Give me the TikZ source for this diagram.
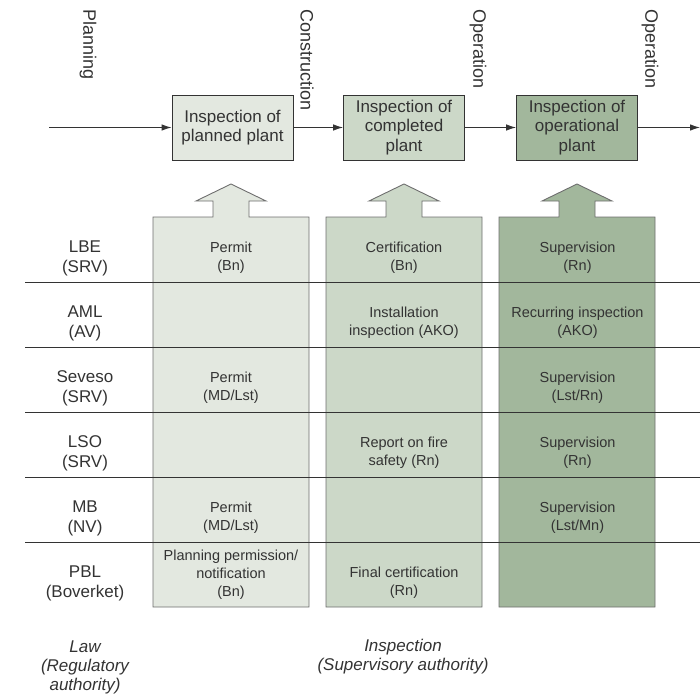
\documentclass[tikz,border=0pt]{standalone}
\usepackage{fontspec}
\setmainfont{Liberation Sans}
\usetikzlibrary{arrows.meta}

\definecolor{paleA}{HTML}{E3E8E0}
\definecolor{paleB}{HTML}{CCD8C8}
\definecolor{paleC}{HTML}{A2B79C}
\definecolor{ink}{HTML}{333333}
\definecolor{rim}{HTML}{6E6E6E}

\begin{document}
\begin{tikzpicture}[
x=1pt, y=-1pt,
font=\fontsize{14.5}{18}\selectfont,
text=ink,
stage/.style={draw=ink, line width=0.9pt, minimum width=121pt, minimum height=65pt, align=center, inner sep=0pt, font=\fontsize{17}{19.5}\selectfont},
phase/.style={rotate=-90, anchor=west, inner sep=0pt, font=\fontsize{18}{20}\selectfont},
act/.style={align=center, font=\fontsize{17}{20}\selectfont},
role/.style={align=center, font=\fontsize{17}{19}\selectfont\itshape},
cell/.style={align=center},
column/.style={draw=rim, line width=0.9pt},
arrow/.style={-{Latex[length=10pt,width=6.5pt]}, draw=ink, line width=0.9pt}
]
\useasboundingbox (0,0) rectangle (700,695);

\node[phase] (plan) at (88,9) {Planning};
\node[phase] (cons) at (307,9) {Construction};
\node[phase] (oper) at (478,9) {Operation};
\node[phase] (oper2) at (650,9) {Operation};

\node[stage, fill=paleA] (planned) at (232.5,127.5) {Inspection of\\planned plant};
\node[stage, fill=paleB] (completed) at (404,127.5) {Inspection of\\completed\\plant};
\node[stage, fill=paleC] (operational) at (577,127.5) {Inspection of\\operational\\plant};
\coordinate (in) at (49,127.5);
\coordinate (out) at (700,127.5);

\draw[arrow] (in) -- (planned);
\draw[arrow] (planned) -- (completed);
\draw[arrow] (completed) -- (operational);
\draw[arrow] (operational) -- (out);

\foreach \xl/\col in {153/paleA, 326/paleB, 499/paleC}
  \draw[column, fill=\col] (\xl,607) -- ++(0,-390) -- ++(60,0) -- ++(0,-16) -- ++(-17,0)
    -- ++(35,-17) -- ++(35,17) -- ++(-17,0) -- ++(0,16) -- ++(60,0) -- ++(0,390) -- cycle;

\foreach \y in {282,347,412,477,542}
  \draw[ink, line width=0.9pt] (25,\y) -- (700,\y);

\node[act] (lbe) at (85,258) {LBE\\(SRV)};
\node[act] (aml) at (85,323) {AML\\(AV)};
\node[act] (seveso) at (85,388) {Seveso\\(SRV)};
\node[act] (lso) at (85,453) {LSO\\(SRV)};
\node[act] (mb) at (85,518) {MB\\(NV)};
\node[act] (pbl) at (85,583) {PBL\\(Boverket)};

\node[cell] (lbeA) at (231,258) {Permit\\(Bn)};
\node[cell] (lbeB) at (404,258) {Certification\\(Bn)};
\node[cell] (lbeC) at (577.5,258) {Supervision\\(Rn)};
\node[cell] (amlB) at (404,323) {Installation\\inspection (AKO)};
\node[cell] (amlC) at (577.5,323) {Recurring inspection\\(AKO)};
\node[cell] (sevesoA) at (231,388) {Permit\\(MD/Lst)};
\node[cell] (sevesoC) at (577.5,388) {Supervision\\(Lst/Rn)};
\node[cell] (lsoB) at (404,453) {Report on fire\\safety (Rn)};
\node[cell] (lsoC) at (577.5,453) {Supervision\\(Rn)};
\node[cell] (mbA) at (231,518) {Permit\\(MD/Lst)};
\node[cell] (mbC) at (577.5,518) {Supervision\\(Lst/Mn)};
\node[cell] (pblA) at (231,575) {Planning permission/\\notification\\(Bn)};
\node[cell] (pblB) at (404,583) {Final certification\\(Rn)};

\node[role] (law) at (85,667) {Law\\(Regulatory\\authority)};
\node[role] (insp) at (403,656.5) {Inspection\\(Supervisory authority)};
\end{tikzpicture}
\end{document}
